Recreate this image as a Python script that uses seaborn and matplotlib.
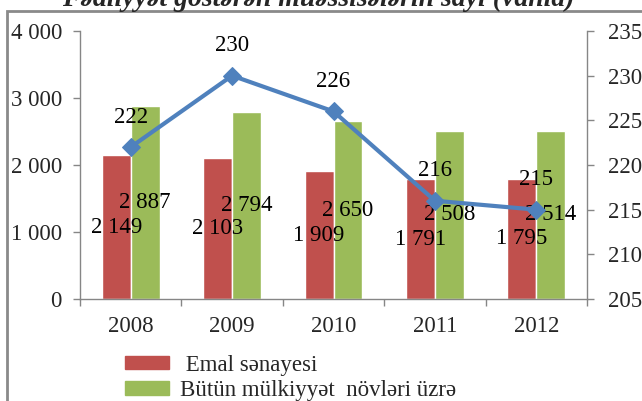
import numpy as np
import pandas as pd
import matplotlib
matplotlib.use("Agg")
import matplotlib.pyplot as plt
import matplotlib.patches as mpatches
import seaborn as sns

# ---- data ----
years = ["2008", "2009", "2010", "2011", "2012"]
emal = [2149, 2103, 1909, 1791, 1795]
butun = [2887, 2794, 2650, 2508, 2514]
line_vals = [222, 230, 226, 216, 215]
series_names = [" Emal sənayesi", "Bütün mülkiyyət  növləri üzrə"]
left_ticks = [0, 1000, 2000, 3000, 4000]
right_ticks = [205, 210, 215, 220, 225, 230, 235]
title = "Fəaliyyət göstərən müəssisələrin sayı (vahid)"

RED = "#C0504D"
GREEN = "#9BBB59"
BLUE = "#4F81BD"
GREY = "#868686"

sns.set_style("white")
plt.rcParams["font.family"] = ["Liberation Serif", "DejaVu Serif"]
FS = 16.5

df = pd.DataFrame({
    "year": years * 2,
    "value": emal + butun,
    "series": [series_names[0]] * len(years) + [series_names[1]] * len(years),
})

fig = plt.figure(figsize=(6.42, 4.01), dpi=100)
ax = fig.add_axes([80 / 642, 1 - 299 / 401, (587 - 80) / 642, (299 - 31) / 401])

sns.barplot(data=df, x="year", y="value", hue="series", order=years,
            hue_order=series_names, palette=[RED, GREEN], width=0.57,
            gap=0, saturation=1, ax=ax, legend=False, errorbar=None)

def fmt(v):
    return f"{v:,}".replace(",", " ")

for cont, vals in zip(ax.containers, [emal, butun]):
    ax.bar_label(cont, labels=[fmt(v) for v in vals], label_type="center",
                 fontsize=FS, color="black")

ax.set_ylim(0, 4000)
ax.set_xlim(-0.5, len(years) - 0.5)
ax.set_yticks(left_ticks)
ax.set_yticklabels([fmt(v) for v in left_ticks])
ax.set_xlabel("")
ax.set_ylabel("")
ax.set_xticks(np.arange(-0.5, len(years), 1.0))
ax.set_xticklabels([""] * (len(years) + 1))
ax.set_xticks(np.arange(len(years)), minor=True)
ax.set_xticklabels(years, minor=True)
ax.tick_params(axis="x", which="major", length=5, width=1, color=GREY, direction="out", bottom=True)
ax.tick_params(axis="x", which="minor", length=0, pad=12, labelsize=FS)
ax.tick_params(axis="y", length=5, width=1, color=GREY, direction="out", pad=8, labelsize=FS, left=True)
for s in ["top", "right"]:
    ax.spines[s].set_visible(False)
for s in ["left", "bottom"]:
    ax.spines[s].set_color(GREY)
    ax.spines[s].set_linewidth(1)

ax2 = ax.twinx()
pos = np.arange(len(years))
sns.lineplot(x=pos, y=line_vals, ax=ax2, color=BLUE, linewidth=3,
             marker="D", markersize=9, markeredgecolor=BLUE, legend=False)
for x, v in zip(pos, line_vals):
    ax2.annotate(str(v), (x, v), xytext=(0, 21.5), textcoords="offset points",
                 ha="center", va="center", fontsize=FS, color="black")
ax2.set_ylim(205, 235)
ax2.set_yticks(right_ticks)
ax2.set_ylabel("")
ax2.tick_params(axis="y", length=5, width=1, color=GREY, direction="out", pad=10, labelsize=FS, right=True)
for s in ["top", "left", "bottom"]:
    ax2.spines[s].set_visible(False)
ax2.spines["right"].set_color(GREY)
ax2.spines["right"].set_linewidth(1)
ax2.set_xlim(-0.5, len(years) - 0.5)

# legend
handles = [mpatches.Patch(color=RED), mpatches.Patch(color=GREEN)]
fig.legend(handles, series_names, loc="upper left",
           bbox_to_anchor=(125 / 642, 1 - 355 / 401), frameon=False,
           fontsize=FS, handlelength=1.9, handleheight=0.5,
           handletextpad=0.5, labelspacing=0.18, borderpad=0, borderaxespad=0)

# title (cut at top as in reference)
fig.text(318 / 642, 1 - 6 / 401, title, ha="center", va="baseline",
         fontsize=20, fontweight="bold", fontstyle="italic")

# outer frame
fig.patches.append(mpatches.Rectangle((7 / 642, -0.1), 1.2, 1 - 11 / 401 + 0.1,
                                      transform=fig.transFigure, fill=False,
                                      edgecolor="#8a8a8a", linewidth=2))

fig.savefig("out.png", dpi=100)
